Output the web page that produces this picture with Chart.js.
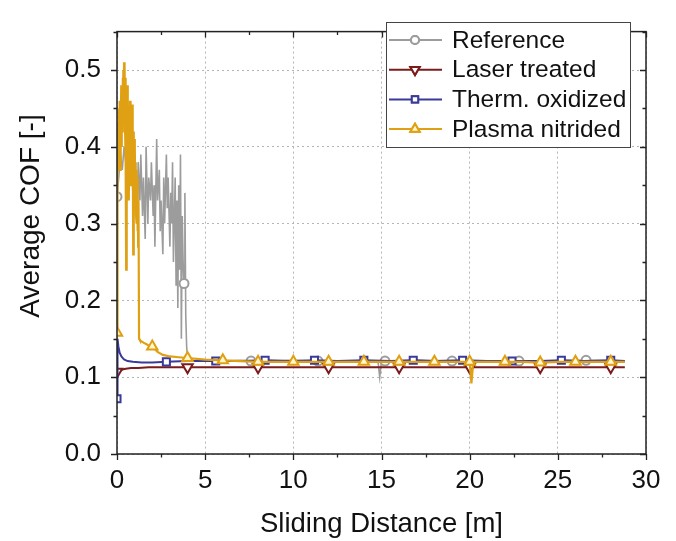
<!DOCTYPE html>
<html>
<head>
<meta charset="utf-8">
<script src="https://cdn.jsdelivr.net/npm/chart.js@4/dist/chart.umd.min.js"></script>
<style>
  html, body { margin: 0; padding: 0; background: #fff; }
  #wrap { width: 676px; height: 541px; }
</style>
</head>
<body>
<div id="wrap"><canvas id="cof-chart" width="676" height="541"></canvas></div>
<script>
// sliding distance [m] / average COF [-]
const refX = [0, 0.1, 0.2, 0.3, 0.4, 0.5, 0.6, 0.7, 0.8, 0.9, 1.0, 1.1, 1.15, 1.2, 1.3, 1.35, 1.45, 1.5, 1.6, 1.65, 1.75, 1.8, 1.9, 1.95, 2.05, 2.1, 2.15, 2.2, 2.25, 2.3, 2.4, 2.45, 2.5, 2.6, 2.65, 2.7, 2.8, 2.85, 2.9, 3.0, 3.05, 3.1, 3.15, 3.2, 3.3, 3.35, 3.4, 3.45, 3.5, 3.55, 3.6, 3.65, 3.7, 3.75, 3.8, 3.85, 3.9, 3.95, 4.0, 4.2, 5, 6, 7, 7.6, 9, 10, 11.4, 13, 14.8, 14.9, 15.0, 15.2, 17, 19, 21, 22.8, 24, 26.6, 28.8]
const refY = [0.335, 0.36, 0.39, 0.37, 0.40, 0.38, 0.41, 0.36, 0.39, 0.34, 0.38, 0.35, 0.30, 0.38, 0.33, 0.39, 0.31, 0.36, 0.28, 0.40, 0.30, 0.36, 0.33, 0.38, 0.31, 0.35, 0.27, 0.34, 0.41, 0.33, 0.37, 0.29, 0.33, 0.26, 0.36, 0.30, 0.39, 0.32, 0.36, 0.27, 0.34, 0.30, 0.38, 0.25, 0.36, 0.22, 0.33, 0.19, 0.35, 0.24, 0.39, 0.15, 0.31, 0.25, 0.222, 0.34, 0.18, 0.14, 0.125, 0.122, 0.121, 0.121, 0.122, 0.121, 0.121, 0.122, 0.121, 0.121, 0.121, 0.100, 0.121, 0.121, 0.122, 0.121, 0.121, 0.121, 0.121, 0.122, 0.121]
const refMarks = [0, 3.8, 7.6, 11.4, 15.2, 19, 22.8, 26.6]

const laserX = [0, 0.05, 0.15, 0.3, 0.5, 0.8, 1.2, 1.8, 2.5, 4, 6, 8, 10, 12, 14, 16, 18, 20, 22, 24, 26, 28, 28.8]
const laserY = [0.107, 0.106, 0.108, 0.110, 0.111, 0.112, 0.112, 0.113, 0.113, 0.113, 0.113, 0.113, 0.113, 0.113, 0.113, 0.113, 0.113, 0.113, 0.113, 0.113, 0.113, 0.113, 0.113]
const laserMarks = [0, 4, 8, 12, 16, 20, 24, 28]

const thermX = [0, 0.03, 0.08, 0.15, 0.25, 0.4, 0.6, 0.9, 1.4, 2, 2.8, 4, 5.6, 7, 8.4, 10, 11.2, 12.5, 14, 15.5, 16.8, 18, 19.6, 21, 22.4, 24, 25.2, 26.5, 28, 28.8]
const thermY = [0.072, 0.150, 0.140, 0.132, 0.127, 0.123, 0.121, 0.120, 0.119, 0.119, 0.120, 0.121, 0.121, 0.121, 0.122, 0.121, 0.122, 0.121, 0.122, 0.121, 0.122, 0.121, 0.122, 0.121, 0.121, 0.121, 0.122, 0.121, 0.122, 0.121]
const thermMarks = [0, 2.8, 5.6, 8.4, 11.2, 14, 16.8, 19.6, 22.4, 25.2, 28]

const plasmaX = [0, 0.02, 0.04, 0.06, 0.08, 0.1, 0.12, 0.14, 0.16, 0.18, 0.2, 0.22, 0.24, 0.26, 0.28, 0.3, 0.32, 0.34, 0.36, 0.38, 0.4, 0.42, 0.44, 0.46, 0.48, 0.5, 0.52, 0.54, 0.56, 0.58, 0.6, 0.62, 0.64, 0.66, 0.68, 0.7, 0.72, 0.74, 0.76, 0.78, 0.8, 0.82, 0.84, 0.86, 0.88, 0.9, 0.92, 0.94, 0.96, 0.98, 1.0, 1.02, 1.04, 1.06, 1.08, 1.1, 1.12, 1.14, 1.16, 1.18, 1.2, 1.22, 1.25, 1.3, 1.5, 1.75, 2, 2.3, 2.6, 3, 3.5, 4, 5, 6, 7, 8, 9, 10, 11, 12, 13, 14, 15, 16, 17, 18, 19, 20, 20.1, 20.2, 21, 22, 23, 24, 25, 26, 27, 28, 28.8]
const plasmaY = [0.158, 0.33, 0.43, 0.37, 0.45, 0.38, 0.44, 0.40, 0.46, 0.37, 0.45, 0.41, 0.48, 0.40, 0.47, 0.42, 0.49, 0.43, 0.50, 0.44, 0.51, 0.45, 0.505, 0.42, 0.49, 0.38, 0.24, 0.47, 0.41, 0.48, 0.39, 0.46, 0.36, 0.45, 0.33, 0.44, 0.39, 0.46, 0.37, 0.45, 0.35, 0.44, 0.38, 0.455, 0.36, 0.43, 0.26, 0.42, 0.35, 0.41, 0.34, 0.40, 0.32, 0.38, 0.31, 0.37, 0.30, 0.36, 0.29, 0.35, 0.27, 0.33, 0.15, 0.148, 0.145, 0.142, 0.140, 0.133, 0.129, 0.127, 0.126, 0.125, 0.123, 0.122, 0.121, 0.120, 0.120, 0.120, 0.120, 0.120, 0.120, 0.120, 0.120, 0.120, 0.120, 0.120, 0.120, 0.120, 0.092, 0.120, 0.120, 0.120, 0.120, 0.119, 0.120, 0.120, 0.120, 0.120, 0.120]
const plasmaMarks = [0, 2, 4, 6, 8, 10, 12, 14, 16, 18, 20, 22, 24, 26, 28]

const xTicks = { min: 0, max: 30, step: 2.5, labelEvery: 5 }
const yTicks = { min: 0, max: 0.55, step: 0.05, labelEvery: 0.1 }
const yTitle = 'Average COF [-]'

const FONT = "'Liberation Sans', Arial, sans-serif"

function points(xs, ys) {
  return xs.map((x, i) => ({ x, y: ys[i] }))
}

function markerRadius(marks, r) {
  return (ctx) => (ctx.raw && marks.includes(ctx.raw.x) ? r : 0)
}

const series = [
  { label: 'Reference', xs: refX, ys: refY, marks: refMarks, color: '#9c9c9c', fill: '#ffffff', style: 'circle', rot: 0, r: 4.5, width: 1.6, order: 4 },
  { label: 'Laser treated', xs: laserX, ys: laserY, marks: laserMarks, color: '#7a1c1c', fill: '#ffffff', style: 'triangle', rot: 180, r: 6, width: 2, order: 3 },
  { label: 'Therm. oxidized', xs: thermX, ys: thermY, marks: thermMarks, color: '#3a3a9a', fill: '#ffffff', style: 'rect', rot: 0, r: 5, width: 2, order: 2 },
  { label: 'Plasma nitrided', xs: plasmaX, ys: plasmaY, marks: plasmaMarks, color: '#e0a013', fill: '#fff6d0', style: 'triangle', rot: 0, r: 6, width: 2.2, order: 1 }
]

const isMajorX = (v) => Math.abs(v / xTicks.labelEvery - Math.round(v / xTicks.labelEvery)) < 1e-6
const isMajorY = (v) => Math.abs(v / yTicks.labelEvery - Math.round(v / yTicks.labelEvery)) < 1e-6

// frame, in/out tick marks, y title and the legend box
const framePlugin = {
  id: 'frame',
  afterDraw(chart) {
    const { ctx, chartArea: a, scales } = chart
    const xs = scales.x
    const ys = scales.y
    ctx.save()
    ctx.strokeStyle = '#222'
    ctx.lineWidth = 1.5
    ctx.strokeRect(a.left, a.top, a.right - a.left, a.bottom - a.top)
    ctx.lineWidth = 1.3
    ctx.beginPath()
    xs.ticks.forEach((t) => {
      const px = Math.round(xs.getPixelForValue(t.value)) + 0.5
      const len = isMajorX(t.value) ? 6 : 3.5
      ctx.moveTo(px, a.bottom)
      ctx.lineTo(px, a.bottom + len)
      ctx.moveTo(px, a.top)
      ctx.lineTo(px, a.top + len)
    })
    ys.ticks.forEach((t) => {
      const py = Math.round(ys.getPixelForValue(t.value)) + 0.5
      const len = isMajorY(t.value) ? 6 : 3.5
      ctx.moveTo(a.left, py)
      ctx.lineTo(a.left - len, py)
      ctx.moveTo(a.right, py)
      ctx.lineTo(a.right - len, py)
    })
    ctx.stroke()

    // y axis title, sits a little above the plot centre in the original
    ctx.save()
    ctx.translate(31, 216)
    ctx.rotate(-Math.PI / 2)
    ctx.font = `28px ${FONT}`
    ctx.fillStyle = '#111'
    ctx.textAlign = 'center'
    ctx.textBaseline = 'middle'
    ctx.fillText(yTitle, 0, 0)
    ctx.restore()

    // legend
    const box = { x: 386, y: 22, w: 244, h: 125 }
    ctx.fillStyle = '#fff'
    ctx.fillRect(box.x, box.y, box.w, box.h)
    ctx.strokeStyle = '#444'
    ctx.lineWidth = 1
    ctx.strokeRect(box.x + 0.5, box.y + 0.5, box.w, box.h)
    ctx.font = `24.5px ${FONT}`
    ctx.textBaseline = 'middle'
    ctx.textAlign = 'left'
    series.forEach((s, i) => {
      const cy = 40 + i * 29.7
      ctx.strokeStyle = s.color
      ctx.lineWidth = 2
      ctx.beginPath()
      ctx.moveTo(389, cy)
      ctx.lineTo(442, cy)
      ctx.stroke()
      ctx.fillStyle = s.fill
      Chart.helpers.drawPoint(ctx, { pointStyle: s.style, radius: s.r * 0.9, rotation: s.rot, borderWidth: 2 }, 415, cy)
      ctx.fill()
      ctx.stroke()
      ctx.fillStyle = '#111'
      ctx.fillText(s.label, 452, cy + 1)
    })
    ctx.restore()
  }
}

new Chart(document.getElementById('cof-chart'), {
  type: 'line',
  data: {
    datasets: series.map((s) => ({
      label: s.label,
      data: points(s.xs, s.ys),
      borderColor: s.color,
      borderWidth: s.width,
      backgroundColor: s.fill,
      pointStyle: s.style,
      pointRotation: s.rot,
      pointRadius: markerRadius(s.marks, s.r),
      pointBorderColor: s.color,
      pointBackgroundColor: s.fill,
      pointBorderWidth: 2,
      tension: 0,
      order: s.order
    }))
  },
  options: {
    responsive: false,
    animation: false,
    devicePixelRatio: 1,
    layout: { padding: { top: 12, right: 30, left: 0, bottom: 0 } },
    plugins: { legend: { display: false }, tooltip: { enabled: false } },
    scales: {
      x: {
        type: 'linear',
        min: xTicks.min,
        max: xTicks.max,
        afterFit: (scale) => { scale.height = 87 },
        border: { display: false, dash: [2, 3] },
        grid: {
          drawTicks: false,
          color: (c) => (isMajorX(c.tick.value) ? '#b5b5b5' : 'rgba(0,0,0,0)'),
          lineWidth: 1
        },
        ticks: {
          stepSize: xTicks.step,
          autoSkip: false,
          maxRotation: 0,
          padding: 11,
          color: '#111',
          font: { family: FONT, size: 26 },
          callback: (v) => (isMajorX(v) ? String(Math.round(v)) : '')
        },
        title: {
          display: true,
          text: 'Sliding Distance [m]',
          color: '#111',
          font: { family: FONT, size: 27.5 },
          padding: { top: 0, bottom: 0 }
        }
      },
      y: {
        type: 'linear',
        min: yTicks.min,
        max: yTicks.max,
        afterFit: (scale) => { scale.width = 117 },
        border: { display: false, dash: [2, 3] },
        grid: {
          drawTicks: false,
          color: (c) => (isMajorY(c.tick.value) ? '#b5b5b5' : 'rgba(0,0,0,0)'),
          lineWidth: 1
        },
        ticks: {
          stepSize: yTicks.step,
          autoSkip: false,
          padding: 16,
          color: '#111',
          font: { family: FONT, size: 26 },
          callback: (v) => (isMajorY(v) ? v.toFixed(1) : '')
        },
        title: { display: false }
      }
    }
  },
  plugins: [framePlugin]
})
</script>
</body>
</html>
